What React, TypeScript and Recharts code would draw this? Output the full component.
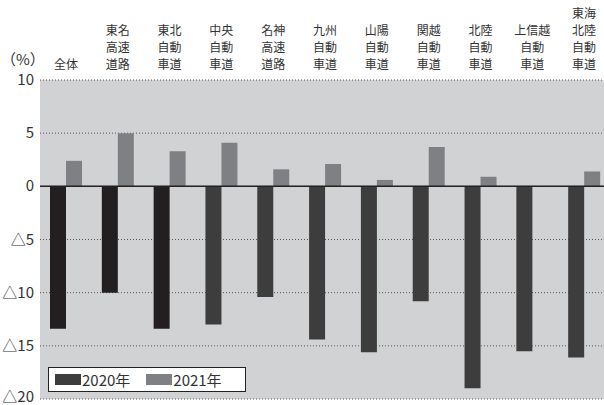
import { BarChart, Bar, XAxis, YAxis, CartesianGrid, ReferenceLine, Cell } from "recharts";

const categories = [
  "全体",
  "東名\n高速\n道路",
  "東北\n自動\n車道",
  "中央\n自動\n車道",
  "名神\n高速\n道路",
  "九州\n自動\n車道",
  "山陽\n自動\n車道",
  "関越\n自動\n車道",
  "北陸\n自動\n車道",
  "上信越\n自動\n車道",
  "東海\n北陸\n自動\n車道",
];
const values2020 = [-13.4, -10.0, -13.4, -13.0, -10.4, -14.4, -15.6, -10.8, -19.0, -15.5, -16.1];
const values2021 = [2.4, 5.0, 3.3, 4.1, 1.6, 2.1, 0.6, 3.7, 0.9, 0, 1.4];
const yTicks = [-20, -15, -10, -5, 0, 5, 10];
const seriesNames = ["2020年", "2021年"];

const data = categories.map((name, i) => ({
  name,
  y2020: values2020[i],
  y2021: values2021[i],
}));

const FONT = '"Noto Sans CJK JP", "Noto Sans", sans-serif';
const DARK = "#3d3d3d";
const DARKEST = "#231f20";
const LIGHT = "#7f8083";

const CategoryTick = ({ x, payload }: any) => {
  const lines = String(payload.value).split("\n");
  const bottom = 69;
  return (
    <g>
      {lines.map((ln, i) => (
        <text
          key={i}
          x={x}
          y={bottom - (lines.length - 1 - i) * 17}
          textAnchor="middle"
          fontSize={12}
          fill="#333"
          fontFamily={FONT}
        >
          {ln}
        </text>
      ))}
    </g>
  );
};

const ValueTick = ({ x, y, payload }: any) => {
  const v = payload.value as number;
  return (
    <text x={x} y={v === -20 ? y - 2 : y} dy={5} textAnchor="end" fontSize={15} fill="#333" fontFamily={FONT}>
      {v < 0 ? "△" + Math.abs(v) : String(v)}
    </text>
  );
};

const swatch = (color: string, ml: number) => (
  <span style={{ display: "inline-block", width: 26, height: 11, background: color, marginLeft: ml }} />
);

export default function App() {
  return (
    <div style={{ position: "absolute", left: 0, top: 0, width: 604, height: 405, overflow: "hidden", background: "#fff" }}>
      <BarChart
        width={620}
        height={405}
        data={data}
        margin={{ top: 0, right: 10, bottom: 6, left: 0 }}
        barSize={16}
        barGap={0}
      >
        <CartesianGrid
          vertical={false}
          fill="#d1d2d4"
          stroke="#555"
          strokeDasharray="1 2"
          horizontalValues={yTicks}
        />
        <XAxis
          dataKey="name"
          orientation="top"
          height={80}
          axisLine={false}
          tickLine={false}
          interval={0}
          tick={<CategoryTick />}
        />
        <YAxis
          width={40}
          domain={[-20, 10]}
          ticks={yTicks}
          interval={0}
          axisLine={false}
          tickLine={false}
          tickSize={0}
          tickMargin={6}
          tick={<ValueTick />}
        />
        <Bar dataKey="y2020" name={seriesNames[0]} fill={DARK} isAnimationActive={false}>
          {data.map((_, i) => (
            <Cell key={i} fill={i < 3 ? DARKEST : DARK} />
          ))}
        </Bar>
        <Bar dataKey="y2021" name={seriesNames[1]} fill={LIGHT} isAnimationActive={false} />
        <ReferenceLine y={0} stroke="#222" strokeWidth={1.5} />
      </BarChart>
      <div
        style={{
          position: "absolute",
          left: 1,
          top: 48,
          fontFamily: FONT,
          fontSize: 15,
          color: "#333",
        }}
      >
        （%）
      </div>
      <div
        style={{
          position: "absolute",
          left: 48,
          top: 367,
          width: 196,
          height: 23,
          border: "1.5px solid #222",
          background: "#fff",
          display: "flex",
          alignItems: "center",
          fontFamily: FONT,
          fontSize: 15,
          color: "#333",
        }}
      >
        {swatch(DARK, 6)}
        <span style={{ marginLeft: 1 }}>{seriesNames[0]}</span>
        {swatch(LIGHT, 16)}
        <span style={{ marginLeft: 1 }}>{seriesNames[1]}</span>
      </div>
    </div>
  );
}
